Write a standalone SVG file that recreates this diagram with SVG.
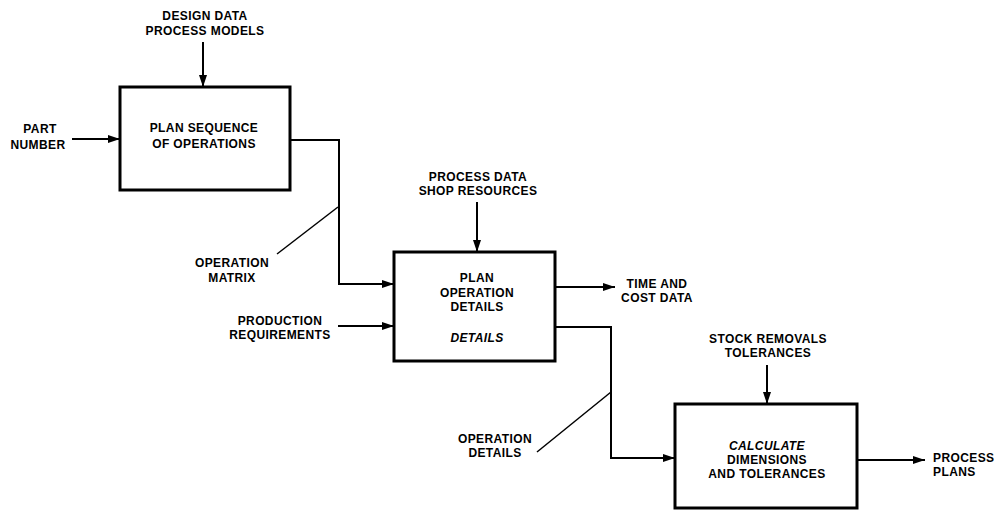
<svg xmlns="http://www.w3.org/2000/svg" width="996" height="513" viewBox="0 0 996 513">
  <style>
    .box { fill: #ffffff; stroke: #000000; stroke-width: 3; }
    .conn { fill: none; stroke: #000000; stroke-width: 2; }
    .leader { fill: none; stroke: #000000; stroke-width: 1.5; }
    text { font-family: "Liberation Sans", Arial, sans-serif; font-size: 12px; font-weight: bold; fill: #000000; letter-spacing: 0.4px; }
    .c { text-anchor: middle; }
    .it { font-style: italic; }
  </style>
  <defs>
    <marker id="arrow" markerUnits="userSpaceOnUse" markerWidth="12" markerHeight="8" refX="12" refY="4" orient="auto">
      <path d="M0,0 L12,4 L0,8 z" fill="#000000"/>
    </marker>
  </defs>
  <rect width="996" height="513" fill="#ffffff"/>

  <g id="connectors">
    <line class="conn" x1="72" y1="139" x2="120" y2="139" marker-end="url(#arrow)"/>
    <line class="conn" x1="203" y1="42" x2="203" y2="87" marker-end="url(#arrow)"/>
    <polyline class="conn" points="290,140 339,140 339,284 394,284" marker-end="url(#arrow)"/>
    <line class="conn" x1="338" y1="326" x2="394" y2="326" marker-end="url(#arrow)"/>
    <line class="conn" x1="477" y1="202" x2="477" y2="252" marker-end="url(#arrow)"/>
    <line class="conn" x1="555" y1="287" x2="615" y2="287" marker-end="url(#arrow)"/>
    <polyline class="conn" points="555,327 611,327 611,458 675,458" marker-end="url(#arrow)"/>
    <line class="conn" x1="767" y1="365" x2="767" y2="404" marker-end="url(#arrow)"/>
    <line class="conn" x1="857" y1="460" x2="925" y2="460" marker-end="url(#arrow)"/>
    <line class="leader" x1="338" y1="207" x2="277" y2="254"/>
    <line class="leader" x1="611" y1="392" x2="537" y2="452"/>
  </g>

  <g id="labels">
    <text class="c" x="205" y="20">DESIGN DATA</text>
    <text class="c" x="205" y="35">PROCESS MODELS</text>
    <text class="c" x="40" y="133">PART</text>
    <text class="c" x="38" y="149">NUMBER</text>
    <text class="c" x="478" y="181">PROCESS DATA</text>
    <text class="c" x="478" y="195">SHOP RESOURCES</text>
    <text class="c" x="232" y="267">OPERATION</text>
    <text class="c" x="232" y="282">MATRIX</text>
    <text class="c" x="280" y="325">PRODUCTION</text>
    <text class="c" x="280" y="339">REQUIREMENTS</text>
    <text class="c" x="657" y="288">TIME AND</text>
    <text class="c" x="657" y="302">COST DATA</text>
    <text class="c" x="768" y="343">STOCK REMOVALS</text>
    <text class="c" x="768" y="357">TOLERANCES</text>
    <text class="c" x="495" y="443">OPERATION</text>
    <text class="c" x="495" y="457">DETAILS</text>
    <text x="933" y="462">PROCESS</text>
    <text x="933" y="476">PLANS</text>
  </g>

  <g id="plan-sequence">
    <rect class="box" x="120" y="87" width="170" height="103"/>
    <text class="c" x="204" y="132">PLAN SEQUENCE</text>
    <text class="c" x="204" y="148">OF OPERATIONS</text>
  </g>

  <g id="plan-operation-details">
    <rect class="box" x="394" y="252" width="161" height="109"/>
    <text class="c" x="477" y="282">PLAN</text>
    <text class="c" x="477" y="297">OPERATION</text>
    <text class="c" x="477" y="311">DETAILS</text>
    <text class="c it" x="477" y="342">DETAILS</text>
  </g>

  <g id="calculate-dimensions">
    <rect class="box" x="675" y="404" width="182" height="104"/>
    <text class="c it" x="767" y="450">CALCULATE</text>
    <text class="c" x="767" y="464">DIMENSIONS</text>
    <text class="c" x="767" y="478">AND TOLERANCES</text>
  </g>
</svg>
